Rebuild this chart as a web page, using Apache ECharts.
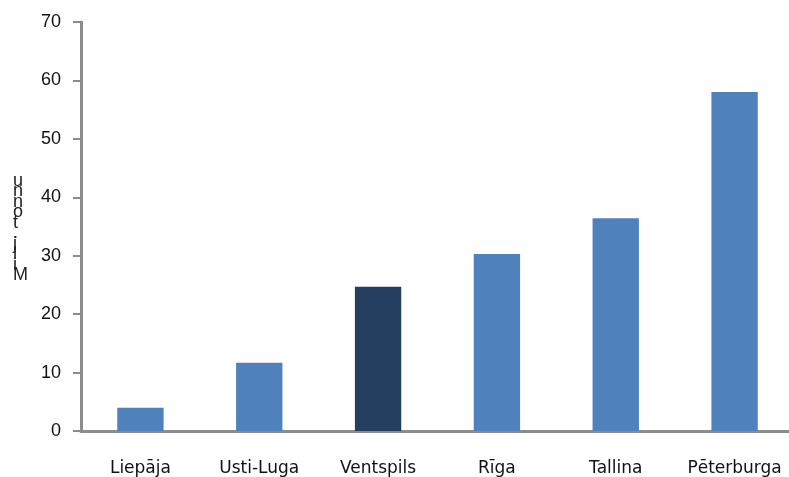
<!DOCTYPE html>
<html>
<head>
<meta charset="utf-8">
<script src="https://cdn.jsdelivr.net/npm/echarts@6/dist/echarts.min.js"></script>
<style>
  html, body { margin: 0; padding: 0; background: #fff; }
  #chart { width: 789px; height: 477px; }
</style>
</head>
<body>
<div id="chart"></div>
<script>
var ports = ['Liepāja', 'Usti-Luga', 'Ventspils', 'Rīga', 'Tallina', 'Pēterburga'];
var cargo = [4, 11.7, 24.7, 30.3, 36.4, 58];
var highlight = 'Ventspils';
var yTicks = [0, 10, 20, 30, 40, 50, 60, 70];
var axisTitle = 'Milj. tonnu';

var chartDom = document.getElementById('chart');
var myChart = echarts.init(chartDom);
var option;

option = {
    animation: false,
    grid: { left: 81, right: -5, top: 22, bottom: 46, outerBoundsMode: 'none' },
    graphic: [{
        type: 'text',
        left: 13,
        top: 172,
        style: {
            // stacked upright letters, read bottom to top like the source
            text: axisTitle.replace(/ /g, '').split('').reverse().join('\n'),
            font: '18px "Liberation Sans"',
            lineHeight: 10.5,
            fill: '#222',
            align: 'center'
        }
    }],
    xAxis: {
        type: 'category',
        data: ports,
        axisLine: { lineStyle: { color: '#8c8c8c', width: 3 } },
        axisTick: { show: false },
        axisLabel: {
            interval: 0,
            hideOverlap: false,
            color: '#111',
            fontSize: 17,
            fontFamily: 'DejaVu Sans',
            margin: 29
        }
    },
    yAxis: {
        type: 'value',
        min: yTicks[0],
        max: yTicks[yTicks.length - 1],
        interval: 10,
        splitLine: { show: false },
        axisLine: { show: true, lineStyle: { color: '#8c8c8c', width: 3 } },
        axisTick: { show: true, length: 8, lineStyle: { color: '#8c8c8c', width: 2 } },
        axisLabel: {
            color: '#111',
            fontSize: 18,
            fontFamily: 'Liberation Sans',
            margin: 20
        }
    },
    series: [{
        type: 'bar',
        barWidth: '39%',
        data: cargo.map(function (v, i) {
            return {
                value: v,
                itemStyle: { color: ports[i] === highlight ? '#243f60' : '#4f81bd' }
            };
        })
    }]
};

option && myChart.setOption(option);
</script>
</body>
</html>
